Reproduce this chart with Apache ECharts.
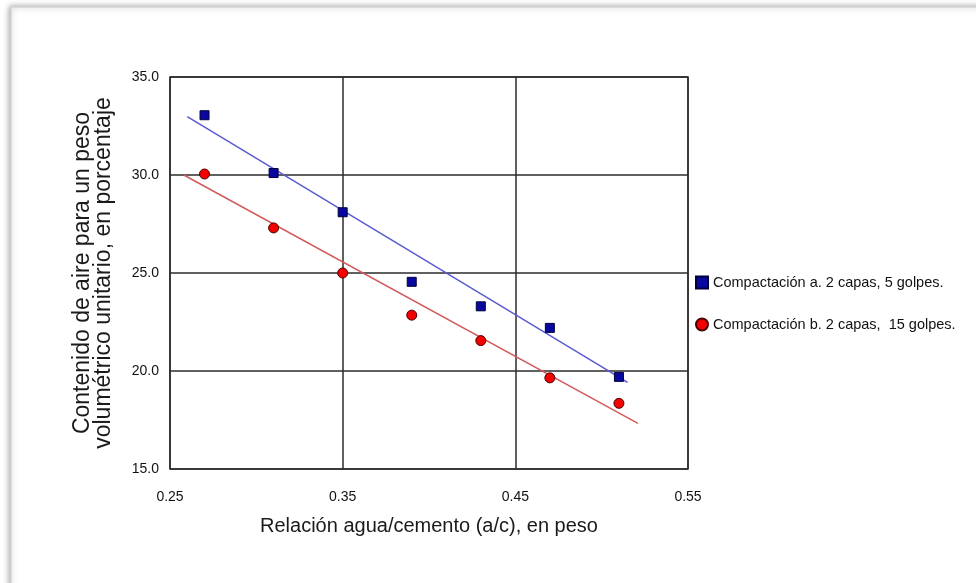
<!DOCTYPE html>
<html>
<head>
<meta charset="utf-8">
<script src="https://cdn.jsdelivr.net/npm/echarts@6/dist/echarts.min.js"></script>
<style>
html,body{margin:0;padding:0;background:#fff;}
#chart{width:976px;height:583px;}
</style>
</head>
<body>
<div id="chart"></div>
<script>
// Data
var xValues = [0.27, 0.31, 0.35, 0.39, 0.43, 0.47, 0.51];
var seriesA = [33.05, 30.1, 28.1, 24.55, 23.3, 22.2, 19.7];   // Compactación a
var seriesB = [30.05, 27.3, 25.0, 22.85, 21.55, 19.65, 18.35]; // Compactación b
var fitAX = [0.26, 0.515];
var fitAY = [32.98, 19.42];
var fitBX = [0.258, 0.521];
var fitBY = [30.0, 17.33];
var xTicks = [0.25, 0.35, 0.45, 0.55];
var yTicks = [15, 20, 25, 30, 35];
var nameA = 'Compactación a. 2 capas, 5 golpes.';
var nameB = 'Compactación b. 2 capas,  15 golpes.';
var xTitle = 'Relación agua/cemento (a/c), en peso';
var yTitle = 'Contenido de aire para un peso\nvolumétrico unitario, en porcentaje';

function pairs(xs, ys) { return xs.map(function (x, i) { return [x, ys[i]]; }); }

var chart = echarts.init(document.getElementById('chart'));
var font = 'Liberation Sans, Arial, sans-serif';
var gridColor = '#2b2b2b';

chart.setOption({
  animation: false,
  backgroundColor: '#ffffff',
  graphic: [{
    type: 'rect',
    z: -100,
    silent: true,
    shape: { x: 11, y: 7, width: 1000, height: 620 },
    style: { fill: '#ffffff', stroke: '#d4d4d4', lineWidth: 1.5,
             shadowBlur: 6, shadowColor: 'rgba(0,0,0,0.35)', shadowOffsetX: -1, shadowOffsetY: 0 }
  }],
  grid: { left: 170, top: 77, width: 518, height: 392, containLabel: false,
          show: true, borderColor: gridColor, borderWidth: 1.5, backgroundColor: 'transparent' },
  legend: {
    orient: 'vertical',
    left: 690, top: 270,
    itemWidth: 12, itemHeight: 12, itemGap: 27,
    data: [nameA, nameB],
    textStyle: { fontFamily: font, fontSize: 14.5, color: '#111' }
  },
  xAxis: {
    type: 'value', min: 0.25, max: 0.55,
    axisLine: { show: false },
    axisTick: { show: false, customValues: xTicks },
    axisLabel: { customValues: xTicks, margin: 21, fontFamily: font, fontSize: 14, color: '#111',
                 formatter: function (v) { return v.toFixed(2); } },
    splitLine: { show: true, lineStyle: { color: gridColor, width: 1.5 } },
    name: xTitle, nameLocation: 'middle', nameGap: 47,
    nameTextStyle: { fontFamily: font, fontSize: 20, color: '#1a1a1a' }
  },
  yAxis: {
    type: 'value', min: 15, max: 35, interval: 5,
    axisLine: { show: false },
    axisTick: { show: false },
    axisLabel: { margin: 11, fontFamily: font, fontSize: 14, color: '#111',
                 formatter: function (v) { return v.toFixed(1); } },
    splitLine: { show: true, lineStyle: { color: gridColor, width: 1.5 } },
    name: yTitle, nameLocation: 'middle', nameGap: 56, nameRotate: 90,
    nameTextStyle: { fontFamily: font, fontSize: 23, lineHeight: 21, color: '#1a1a1a', align: 'center' }
  },
  series: [
    {
      name: 'fitA', type: 'line', data: pairs(fitAX, fitAY), symbol: 'none',
      lineStyle: { color: '#5a5ad2', width: 1.5 }, z: 2, silent: true
    },
    {
      name: 'fitB', type: 'line', data: pairs(fitBX, fitBY), symbol: 'none',
      lineStyle: { color: '#d25a5a', width: 1.5 }, z: 2, silent: true
    },
    {
      name: nameA, type: 'scatter', data: pairs(xValues, seriesA),
      symbol: 'rect', symbolSize: 9,
      itemStyle: { color: '#0808a0', borderColor: '#00003a', borderWidth: 1, opacity: 1 }, z: 3
    },
    {
      name: nameB, type: 'scatter', data: pairs(xValues, seriesB),
      symbol: 'circle', symbolSize: 10,
      itemStyle: { color: '#f40000', borderColor: '#4a0000', borderWidth: 1, opacity: 1 }, z: 3
    }
  ]
});
</script>
</body>
</html>
